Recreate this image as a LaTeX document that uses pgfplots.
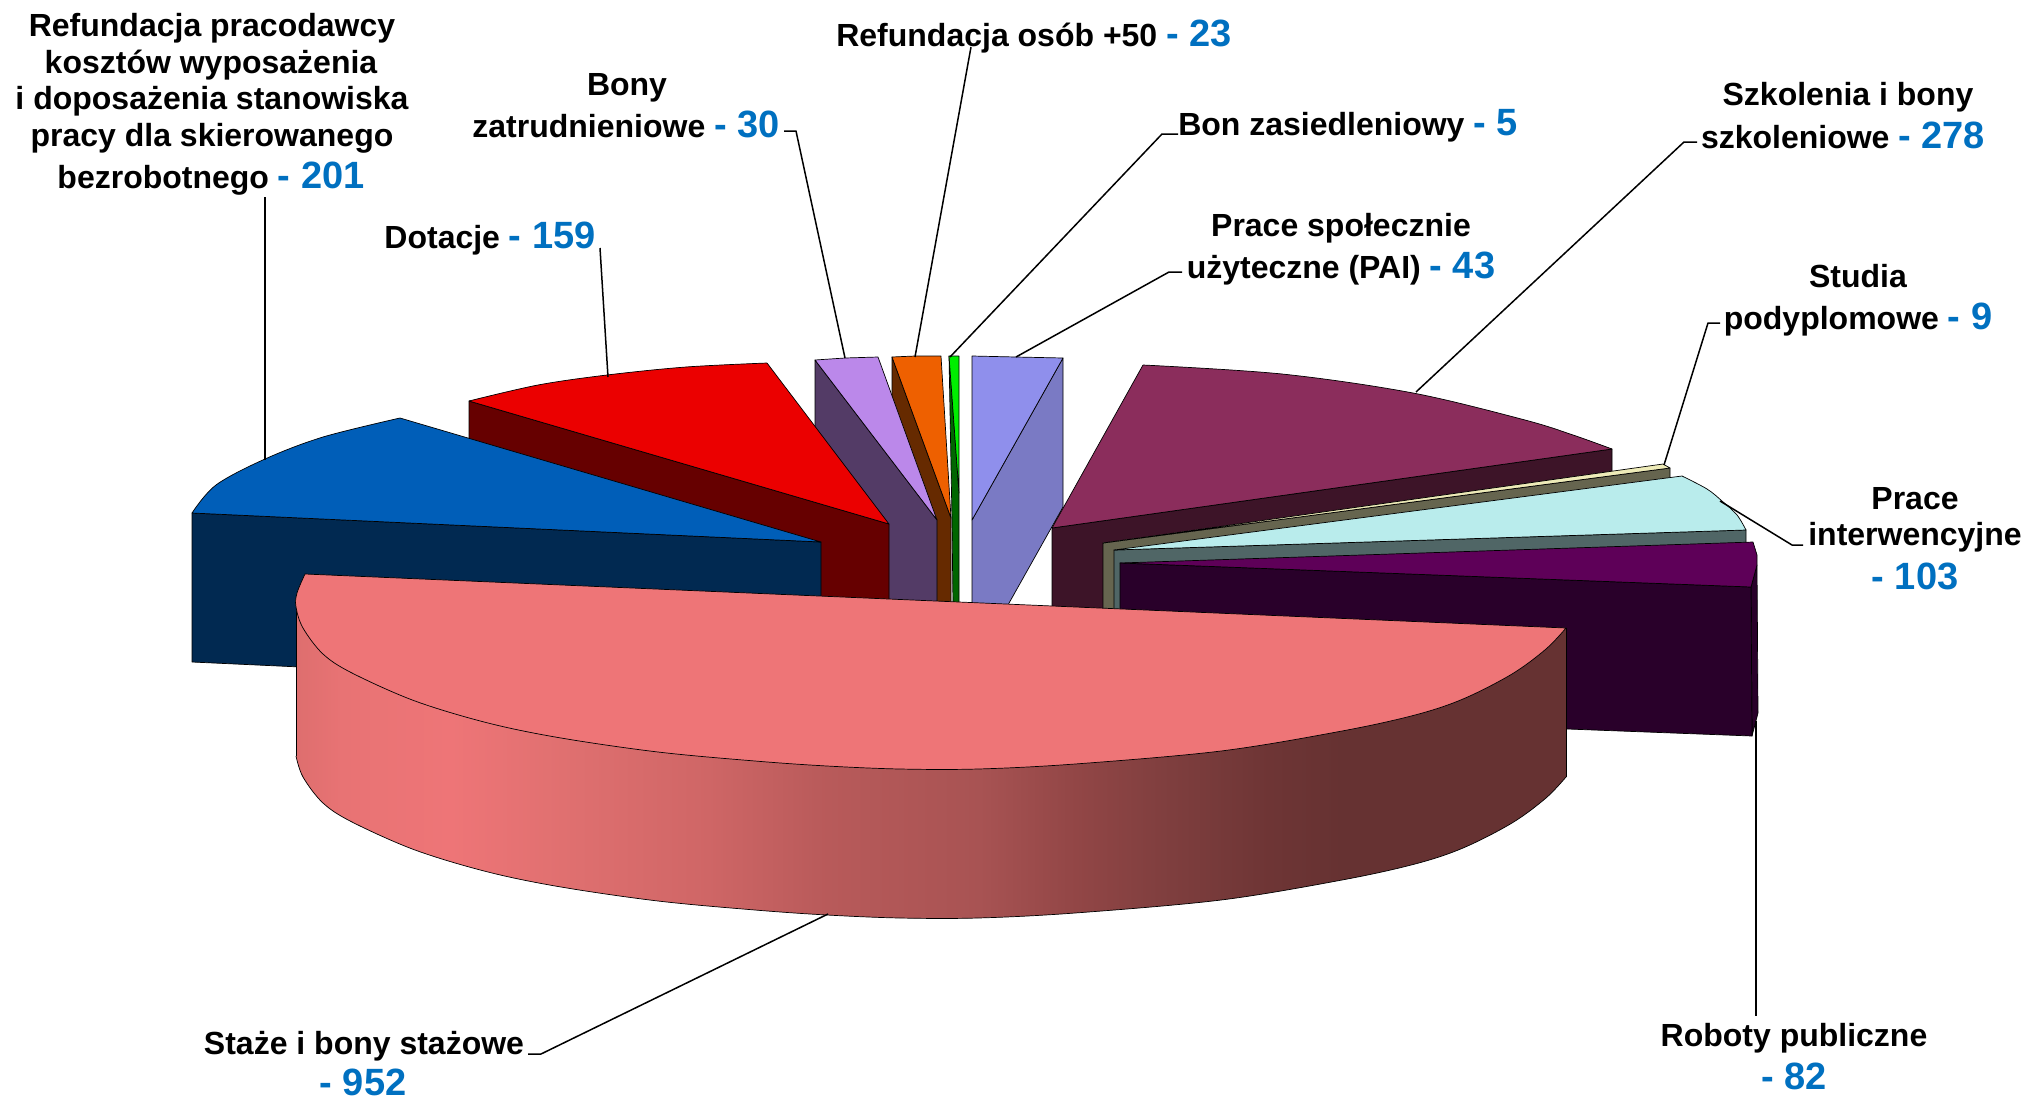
\documentclass[border=0pt]{standalone}
\usepackage{pgfplots}
\usepackage{fontspec}
\setmainfont{Liberation Sans}
\pgfplotsset{compat=1.18}
\definecolor{lblue}{HTML}{0070C0}
\definecolor{s0}{HTML}{DE6E6E}\definecolor{s1}{HTML}{E87374}\definecolor{s2}{HTML}{EE7577}
\definecolor{s3}{HTML}{E07070}\definecolor{s4}{HTML}{CF6666}\definecolor{s5}{HTML}{B85A5A}
\definecolor{s6}{HTML}{A85353}\definecolor{s7}{HTML}{924646}\definecolor{s8}{HTML}{7E3E3E}
\definecolor{s9}{HTML}{6E3535}\definecolor{s10}{HTML}{663232}
\definecolor{blueT}{HTML}{005EB8}\definecolor{blueS}{HTML}{012951}
\definecolor{redT}{HTML}{EB0000}\definecolor{redS}{HTML}{660000}
\definecolor{lavT}{HTML}{BB88EA}\definecolor{lavS}{HTML}{533B66}
\definecolor{oraT}{HTML}{EE6000}\definecolor{oraS}{HTML}{662A00}
\definecolor{greT}{HTML}{00EE00}\definecolor{greS}{HTML}{006600}
\definecolor{perT}{HTML}{8F8FEC}\definecolor{perS}{HTML}{7A7AC4}
\definecolor{pluT}{HTML}{8B2D5C}\definecolor{pluS}{HTML}{3D1428}
\definecolor{creT}{HTML}{EEEBB8}\definecolor{creS}{HTML}{66654F}
\definecolor{teaT}{HTML}{B9ECEC}\definecolor{teaS}{HTML}{506666}
\definecolor{purT}{HTML}{5E0058}\definecolor{purS}{HTML}{29002A}
\definecolor{salT}{HTML}{EE7577}
\pgfdeclarehorizontalshading{salside}{100bp}{color(0bp)=(s0);color(25bp)=(s0);color(26.8bp)=(s1);color(31.1bp)=(s2);color(35.5bp)=(s3);color(41.2bp)=(s4);color(45.9bp)=(s5);color(51.9bp)=(s6);color(55.7bp)=(s7);color(59.5bp)=(s8);color(63.3bp)=(s9);color(66.2bp)=(s10);color(100bp)=(s10)}
\newcommand{\bl}[1]{{\fontsize{19pt}{20pt}\selectfont\color{lblue}#1}}
\tikzset{lab/.style={anchor=base,inner sep=0pt,font=\fontsize{16pt}{18pt}\selectfont\bfseries,text=black}}
\pgfplotsset{face/.style={draw=black,line width=0.35pt,line join=round,fill=#1},
 area/.style={draw=none,fill=#1},
 arc/.style={smooth,tension=0.55},
 edge/.style={draw=black,line width=0.35pt,line join=round},
 lead/.style={draw=black,line width=0.75pt,line join=round}}
\begin{document}
\begin{tikzpicture}
\begin{axis}[scale only axis,width=1013pt,height=549.5pt,xmin=0,xmax=2026,ymin=0,ymax=1099,y dir=reverse,hide axis,clip=false]
\addplot[draw=none,fill=white] coordinates {(0,0)(2026,0)(2026,1099)(0,1099)} -- cycle;
% orange: Refundacja osob +50
\addplot[face=oraS] coordinates {(892,357)(951,518)(951,669)(892,508)} -- cycle;
\addplot[face=oraT] coordinates {(892,357)(915,356)(941,356)(951,518)} -- cycle;
% green: Bon zasiedleniowy
\addplot[face=greS] coordinates {(949,356)(959,493)(959,606)(953,606)(952,520)} -- cycle;
\addplot[face=greT] coordinates {(949,356)(954,356)(959,356)(959,493)} -- cycle;
% lavender: Bony zatrudnieniowe
\addplot[face=lavS] coordinates {(815,360)(937,520)(937,669)(815,509)} -- cycle;
\addplot[face=lavT] coordinates {(815,360)(845,358)(878,357)(937,520)} -- cycle;
% red: Dotacje
\addplot[face=redS] coordinates {(469,401)(889,524)(889,673)(469,550)} -- cycle;
\addplot[area=redT] coordinates {(469,401)(538,385)(607,375)(686,367)(767,363)(889,524)} -- cycle;
\addplot[area=redT,arc] coordinates {(469,401)(538,385)(607,375)(686,367)(767,363)} -- cycle;
\addplot[edge,arc] coordinates {(469,401)(538,385)(607,375)(686,367)(767,363)};
\addplot[edge] coordinates {(767,363)(889,524)(469,401)};
% blue: Refundacja pracodawcy
\addplot[face=blueS] coordinates {(192,513)(821,542)(821,691)(192,662)} -- cycle;
\addplot[area=blueT] coordinates {(192,513)(216,485)(265,459)(323,437)(400,418)(821,542)} -- cycle;
\addplot[area=blueT,arc] coordinates {(192,513)(216,485)(265,459)(323,437)(400,418)} -- cycle;
\addplot[edge,arc] coordinates {(192,513)(216,485)(265,459)(323,437)(400,418)};
\addplot[edge] coordinates {(400,418)(821,542)(192,513)};
% periwinkle: Prace spoleczne
\addplot[face=perS] coordinates {(1063,358)(972,520)(972,669)(1063,507)} -- cycle;
\addplot[face=perT] coordinates {(972,356)(1016,357)(1063,358)(972,520)} -- cycle;
% plum: Szkolenia
\addplot[face=pluS] coordinates {(1052,528)(1612,449)(1612,598)(1052,677)} -- cycle;
\addplot[area=pluT] coordinates {(1143,365)(1282,374)(1413,393)(1525,420)(1573,435)(1612,449)(1052,528)} -- cycle;
\addplot[area=pluT,arc] coordinates {(1143,365)(1282,374)(1413,393)(1525,420)(1573,435)(1612,449)} -- cycle;
\addplot[edge,arc] coordinates {(1143,365)(1282,374)(1413,393)(1525,420)(1573,435)(1612,449)};
\addplot[edge] coordinates {(1612,449)(1052,528)(1143,365)};
% cream: Studia podyplomowe
\addplot[face=creS] coordinates {(1103,543)(1670,468)(1670,617)(1103,692)} -- cycle;
\addplot[face=creT] coordinates {(1103,543)(1663,464)(1670,468)} -- cycle;
% teal: Prace interwencyjne
\addplot[face=teaS] coordinates {(1114,550)(1746,530)(1746,679)(1114,699)} -- cycle;
\addplot[area=teaT] coordinates {(1114,550)(1682,476)(1707,489)(1722,501)(1737,515)(1746,530)} -- cycle;
\addplot[area=teaT,arc] coordinates {(1682,476)(1707,489)(1722,501)(1737,515)(1746,530)} -- cycle;
\addplot[edge,arc] coordinates {(1682,476)(1707,489)(1722,501)(1737,515)(1746,530)};
\addplot[edge] coordinates {(1746,530)(1114,550)(1682,476)};
% purple: Roboty publiczne
\addplot[face=purS] coordinates {(1751,587)(1757,565)(1758,713)(1752,736)} -- cycle;
\addplot[face=purS] coordinates {(1120,563)(1751,587)(1752,736)(1120,712)} -- cycle;
\addplot[face=purT] coordinates {(1120,563)(1753,542)(1757,555)(1757,565)(1751,587)} -- cycle;
% salmon: Staze, side
\addplot[draw=none,shade,shading=salside] coordinates {(296,600)(1566,628)(1566,777)(1555,786)(303,772)(296,756)} -- cycle;
\addplot[draw=none,shade,shading=salside,arc] coordinates {(1566,777)(1546,798)(1512,823)(1463,848)(1415,864)(1342,880)(1221,900)(1075,913)(978,918)(900,918)(827,915)(755,910)(658,901)(561,887)(488,872)(415,850)(352,822)(323,803)(303,777)(296,756)} -- cycle;
\addplot[edge,arc] coordinates {(1566,777)(1546,798)(1512,823)(1463,848)(1415,864)(1342,880)(1221,900)(1075,913)(978,918)(900,918)(827,915)(755,910)(658,901)(561,887)(488,872)(415,850)(352,822)(323,803)(303,777)(296,756)};
\addplot[edge] coordinates {(296,607)(296,756)};
\addplot[edge] coordinates {(1566,628)(1566,777)};
% salmon: top
\addplot[face=salT,arc] coordinates {(305,574)(297,593)(296,607)(303,628)(323,654)(352,673)(415,701)(488,723)(561,738)(658,752)(755,761)(827,766)(900,769)(978,769)(1075,764)(1221,751)(1342,731)(1415,715)(1463,699)(1512,674)(1546,649)(1566,628)} -- cycle;
% leader lines
\addplot[lead] coordinates {(265,197)(265,460)};
\addplot[lead] coordinates {(600,248)(608,377)};
\addplot[lead] coordinates {(784,131)(796,131)(845,358)};
\addplot[lead] coordinates {(971,47)(915,357)};
\addplot[lead] coordinates {(1178,134)(1162,134)(950,357)};
\addplot[lead] coordinates {(1182,272)(1169,272)(1016,357)};
\addplot[lead] coordinates {(1697,142)(1684,142)(1416,392)};
\addplot[lead] coordinates {(1720,323)(1708,323)(1664,465)};
\addplot[lead] coordinates {(1720,501)(1792,545)(1803,545)};
\addplot[lead] coordinates {(1756,721)(1756,1016)};
\addplot[lead] coordinates {(828,914)(541,1054)(528,1054)};
% labels
\node[lab] at (axis cs:212,36) {Refundacja pracodawcy};
\node[lab] at (axis cs:211,73) {kosztów wyposażenia};
\node[lab] at (axis cs:212,109) {i doposażenia stanowiska};
\node[lab] at (axis cs:212,146) {pracy dla skierowanego};
\node[lab] at (axis cs:211,188) {bezrobotnego \bl{- 201}};
\node[lab] at (axis cs:627,95) {Bony};
\node[lab] at (axis cs:626,137) {zatrudnieniowe \bl{- 30}};
\node[lab] at (axis cs:490,248) {Dotacje \bl{- 159}};
\node[lab] at (axis cs:1034,46) {Refundacja osób +50 \bl{- 23}};
\node[lab] at (axis cs:1348,135) {Bon zasiedleniowy \bl{- 5}};
\node[lab] at (axis cs:1341,236) {Prace społecznie};
\node[lab] at (axis cs:1341,278) {użyteczne (PAI) \bl{- 43}};
\node[lab] at (axis cs:1848,105) {Szkolenia i bony};
\node[lab] at (axis cs:1843,148) {szkoleniowe \bl{- 278}};
\node[lab] at (axis cs:1858,287) {Studia};
\node[lab] at (axis cs:1858,329) {podyplomowe \bl{- 9}};
\node[lab] at (axis cs:1915,509) {Prace};
\node[lab] at (axis cs:1915,545) {interwencyjne};
\node[lab] at (axis cs:1915,589) {\bl{- 103}};
\node[lab] at (axis cs:1794,1046) {Roboty publiczne};
\node[lab] at (axis cs:1794,1089) {\bl{- 82}};
\node[lab] at (axis cs:364,1054) {Staże i bony stażowe};
\node[lab] at (axis cs:363,1095) {\bl{- 952}};
\end{axis}
\end{tikzpicture}
\end{document}
